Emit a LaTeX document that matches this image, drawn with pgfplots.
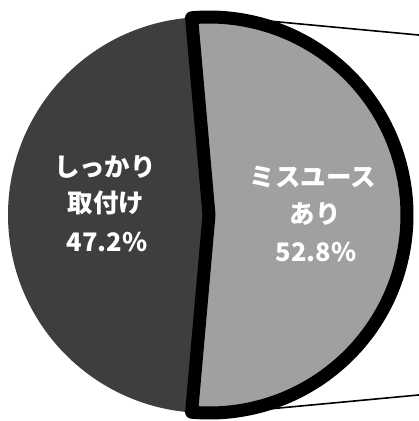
\documentclass[border=0pt]{standalone}
\usepackage{fontspec}
\usepackage{pgfplots}
\usepackage{pgfplotstable}
\pgfplotsset{compat=1.18}
\newfontfamily\jp{Noto Sans CJK JP}
\definecolor{darkslice}{RGB}{62,62,62}
\definecolor{lightslice}{RGB}{160,160,160}
\pgfplotstableread{
label value
dark 47.2
light 52.8
}\piedata
\begin{document}
\begin{tikzpicture}
\pgfplotstablegetelem{1}{value}\of\piedata
\pgfmathsetmacro{\half}{\pgfplotsretval*3.6/2}
\pgfmathsetmacro{\aB}{360-\half}
\begin{axis}[scale only axis, width=419pt, height=421pt,
  xmin=0, xmax=419, ymin=0, ymax=421, hide axis, clip=true]
\addplot[black, line width=1.6pt] coordinates {(200,406.4) (440,384)};
\addplot[black, line width=1.6pt] coordinates {(200,5.6) (440,28)};
\fill[darkslice] (axis cs:206,206) -- ++(\half:198pt) arc[start angle=\half, end angle=\aB, radius=198pt] -- cycle;
\fill[lightslice] (axis cs:209,206) -- ++(-\half:198pt) arc[start angle=-\half, end angle=\half, radius=198pt] -- cycle;
\draw[black, line width=13pt, line join=round] (axis cs:209,206) -- ++(-\half:198pt) arc[start angle=-\half, end angle=\half, radius=198pt] -- cycle;
\tikzset{lbl/.style={text=white, inner sep=0pt, font=\jp\bfseries\fontsize{25.5}{28}\selectfont}}
\node[lbl] at (axis cs:105,254) {しっかり};
\node[lbl] at (axis cs:106,218) {取付け};
\node[lbl] at (axis cs:107,179) {47.2\%};
\node[lbl] at (axis cs:313,244) {ミスユース};
\node[lbl] at (axis cs:315,207) {あり};
\node[lbl] at (axis cs:316,169) {52.8\%};
\end{axis}
\pgfresetboundingbox
\useasboundingbox (current axis.south west) rectangle (current axis.north east);
\end{tikzpicture}
\end{document}
